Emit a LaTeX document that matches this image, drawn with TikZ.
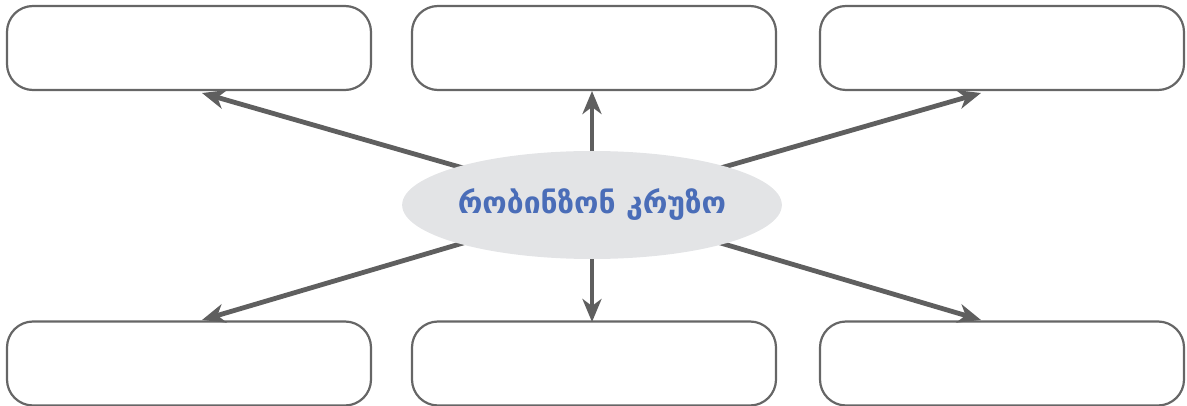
\documentclass[tikz,border=0pt]{standalone}
\usepackage{fontspec}
\newfontfamily\geo{DejaVu Sans}
\usetikzlibrary{arrows.meta,shapes.geometric}
\definecolor{boxgray}{HTML}{666666}
\definecolor{arrowgray}{HTML}{5F5F5F}
\definecolor{ellfill}{HTML}{E3E4E6}
\definecolor{txtblue}{HTML}{4A6DB8}
\begin{document}
\begin{tikzpicture}[x=1pt,y=-1pt,
  box/.style={draw=boxgray,line width=2.2pt,rounded corners=26pt,minimum width=364pt,minimum height=84pt,inner sep=0pt},
  arr/.style={draw=arrowgray,line width=4.8pt,-{Stealth[length=23pt,width=19pt,inset=7pt]}}]
\useasboundingbox (0,0) rectangle (1187,406);
\node[box] (tl) at (189,48) {};
\node[box] (tm) at (594,48) {};
\node[box] (tr) at (1002,48) {};
\node[box] (bl) at (189,363.5) {};
\node[box] (bm) at (594,363.5) {};
\node[box] (br) at (1002,363.5) {};
\coordinate (c) at (592,205);
\coordinate (etl) at (202,93);
\coordinate (etm) at (592,91);
\coordinate (etr) at (981,93);
\coordinate (ebl) at (202,320);
\coordinate (ebm) at (592,322);
\coordinate (ebr) at (981,320);
\foreach \e in {etl,etm,etr,ebl,ebm,ebr}{\draw[arr] (c) -- (\e);}
\node[ellipse,fill=ellfill,minimum width=376pt,minimum height=108pt,inner sep=0pt] (e) at (c)
  {\geo\bfseries\fontsize{30pt}{34pt}\selectfont\color{txtblue}რობინზონ კრუზო};
\end{tikzpicture}
\end{document}
